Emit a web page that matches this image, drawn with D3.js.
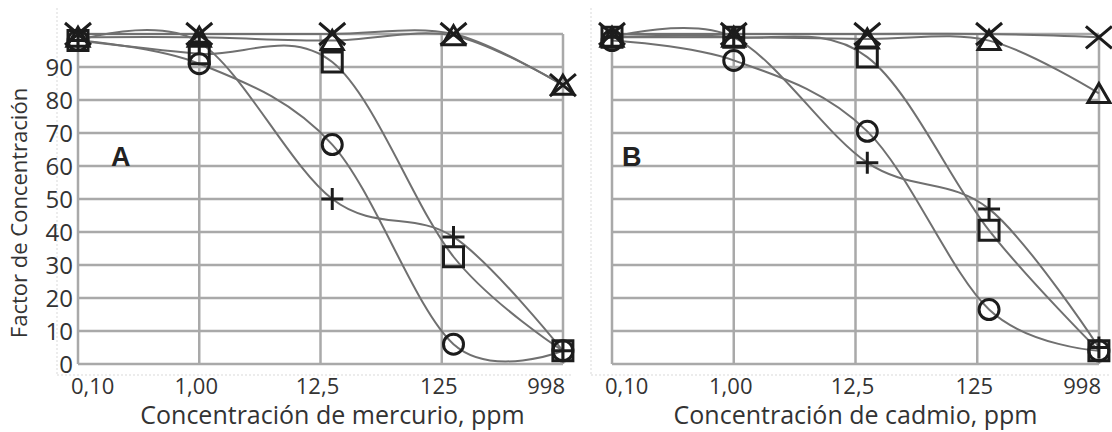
<!DOCTYPE html>
<html>
<head>
<meta charset="utf-8">
<script src="https://d3js.org/d3.v7.min.js"></script>
<style>
  body { margin: 0; background: #fff; }
  text { font-family: 'Open Sans', sans-serif; fill: #333; }
</style>
</head>
<body>
<svg id="chart" width="1112" height="432"></svg>
<script>
// concentrations (ppm) and the labels printed under the grid lines
const concentraciones = [0.1, 1, 12.5, 125, 998];
const xLabels = ['0,10', '1,00', '12,5', '125', '998'];
const xGrid = [0.1, 1, 10, 100, 1000];
const yTicks = [0, 10, 20, 30, 40, 50, 60, 70, 80, 90];
const yGrid = [0, 10, 20, 30, 40, 50, 60, 70, 80, 90, 100];

// Panel A - mercurio
const hgCirculo   = [98, 91, 66.5, 6, 4];
const hgCuadrado  = [98, 94, 91.5, 32.5, 4];
const hgCruz      = [98, 97.5, 50, 38.5, 4];
const hgTriangulo = [99, 99, 98, 99.5, 84.5];
const hgAspa      = [100, 100, 100, 100, 84.5];

// Panel B - cadmio
const cdCirculo   = [98, 92, 70.5, 16.5, 4];
const cdCuadrado  = [99, 99, 93, 40.5, 4];
const cdCruz      = [99, 99, 61, 47, 5];
const cdTriangulo = [99, 99, 98.5, 98, 82];
const cdAspa      = [100, 100, 100, 100, 99];

const svg = d3.select('#chart');
const y = d3.scaleLinear().domain([0, 100]).range([364, 34]);

const panels = [
  { letter: 'A', left: 78, right: 563, title: 'Concentración de mercurio, ppm', titleShift: 12, yLabels: true,
    series: [['circle', hgCirculo], ['square', hgCuadrado], ['plus', hgCruz], ['triangle', hgTriangulo], ['x', hgAspa]] },
  { letter: 'B', left: 612, right: 1099, title: 'Concentración de cadmio, ppm', titleShift: 0, yLabels: false,
    series: [['circle', cdCirculo], ['square', cdCuadrado], ['plus', cdCruz], ['triangle', cdTriangulo], ['x', cdAspa]] }
];

// marker shapes, drawn around 0,0
function marker(kind) {
  if (kind == 'circle') return d3.symbol().type(d3.symbolCircle).size(Math.PI * 100)();
  if (kind == 'square') return 'M-10,-10H10V10H-10Z';
  if (kind == 'plus') return 'M-11,0H11M0,-11V11';
  if (kind == 'triangle') return 'M0,-10L11,9H-11Z';
  return 'M-13,-11L13,11M13,-11L-13,11';
}

panels.forEach(function(p) {
  const x = d3.scaleLog().domain([0.1, 1000]).range([p.left, p.right]);
  const g = svg.append('g');

  // faint outer frame (dotted)
  g.append('line')
    .attr('x1', p.left - 21).attr('x2', p.left - 21)
    .attr('y1', 8).attr('y2', 375)
    .style('stroke', '#e6e6e6').style('stroke-width', 1.5).style('stroke-dasharray', '2,2');
  g.append('line')
    .attr('x1', p.left - 21).attr('x2', p.right + 10)
    .attr('y1', 375).attr('y2', 375)
    .style('stroke', '#e6e6e6').style('stroke-width', 1.5).style('stroke-dasharray', '2,2');

  // grid
  g.selectAll('line.h').data(yGrid).enter().append('line')
    .attr('x1', p.left).attr('x2', p.right)
    .attr('y1', d => y(d)).attr('y2', d => y(d))
    .style('stroke', '#a9a9a9').style('stroke-width', 2.5);
  g.selectAll('line.v').data(xGrid).enter().append('line')
    .attr('x1', d => x(d)).attr('x2', d => x(d))
    .attr('y1', y(0)).attr('y2', y(100))
    .style('stroke', '#a9a9a9').style('stroke-width', 2.5);

  // x tick labels, one under each grid line
  const last = xGrid.length - 1;
  g.selectAll('text.xt').data(xGrid).enter().append('text')
    .attr('x', function(d, i) { return i == 0 ? x(d) - 7 : (i == last ? x(d) + 2 : x(d) - 3); })
    .attr('y', 394)
    .attr('text-anchor', function(d, i) { return i == 0 ? 'start' : (i == last ? 'end' : 'middle'); })
    .style('font-size', '22px')
    .text((d, i) => xLabels[i]);

  // x title
  g.append('text')
    .attr('x', (p.left + p.right) / 2 + p.titleShift)
    .attr('y', 424)
    .attr('text-anchor', 'middle')
    .style('font-size', '25px')
    .text(p.title);

  if (p.yLabels) {
    g.selectAll('text.yt').data(yTicks).enter().append('text')
      .attr('x', 73)
      .attr('y', d => y(d))
      .attr('dy', '0.36em')
      .attr('text-anchor', 'end')
      .style('font-size', '24px')
      .text(d => d);
    g.append('text')
      .attr('transform', 'translate(27,' + 213 + ') rotate(-90)')
      .attr('text-anchor', 'middle')
      .style('font-size', '22px')
      .text('Factor de Concentración');
  }

  // panel letter
  g.append('text')
    .attr('x', p.letter == 'A' ? p.left + 33 : p.left + 10)
    .attr('y', 166)
    .style('font-size', '27px')
    .style('font-weight', 'bold')
    .style('font-family', "'Liberation Sans', Arial, sans-serif")
    .style('fill', '#222')
    .text(p.letter);

  // smoothed lines
  const line = d3.line()
    .x((d, i) => x(concentraciones[i]))
    .y(d => y(d))
    .curve(d3.curveCardinal.tension(0));
  p.series.forEach(function(s) {
    g.append('path')
      .attr('d', line(s[1]))
      .style('fill', 'none')
      .style('stroke', '#707070')
      .style('stroke-width', 2);
  });

  // markers
  p.series.forEach(function(s) {
    g.selectAll(null).data(s[1]).enter().append('path')
      .attr('transform', (d, i) => 'translate(' + x(concentraciones[i]) + ',' + y(d) + ')')
      .attr('d', marker(s[0]))
      .style('fill', 'none')
      .style('stroke', '#1c1c1c')
      .style('stroke-width', 3);
  });
});
</script>
</body>
</html>
